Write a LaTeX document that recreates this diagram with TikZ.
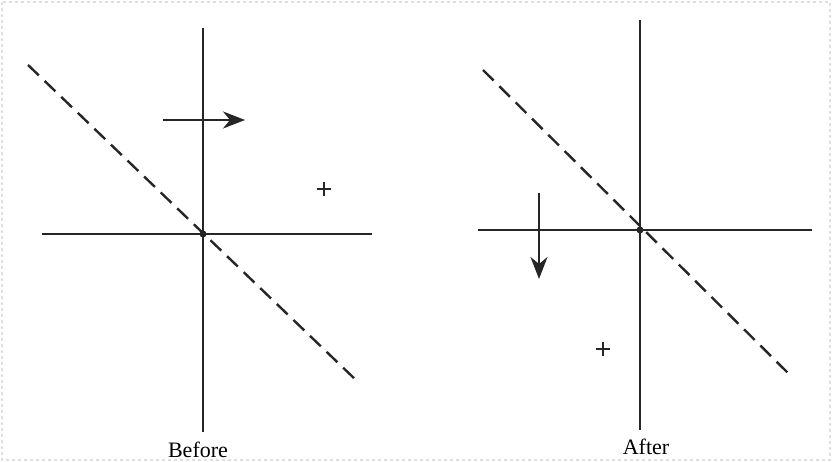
\documentclass[tikz,border=0pt]{standalone}
\usepackage{fontspec}
\setmainfont{Liberation Serif}
\usetikzlibrary{arrows.meta}
\begin{document}
\begin{tikzpicture}[x=1pt,y=-1pt,
  axis/.style={line width=2.6pt,black!85},
  diag/.style={line width=2.4pt,black!85,dash pattern=on 15pt off 8pt},
  move/.style={line width=2.4pt,black!85,-{Stealth[length=22pt,width=17pt,inset=7pt]}},
  cross/.style={line width=2.4pt,black!85},
  caption/.style={font=\fontsize{22}{26}\selectfont,inner sep=0pt}]
  \useasboundingbox (0,0) rectangle (832,462);
  \draw[gray!25,dashed,line width=1.5pt] (2,2) rectangle (830,460);
  % before
  \coordinate (o1) at (203,234);
  \coordinate (t1) at (203,28);
  \coordinate (b1) at (203,432);
  \coordinate (l1) at (42,234);
  \coordinate (r1) at (372,234);
  \draw[axis] (t1) -- (b1);
  \draw[axis] (l1) -- (r1);
  \coordinate (d1) at (28,65);
  \coordinate (e1) at (358,382);
  \draw[diag] (d1) -- (e1);
  \coordinate (a1) at (163,120);
  \coordinate (h1) at (245,120);
  \draw[move] (a1) -- (h1);
  \coordinate (p1) at (324,189);
  \draw[cross] ([xshift=-7pt]p1) -- ([xshift=7pt]p1);
  \draw[cross] ([yshift=-7pt]p1) -- ([yshift=7pt]p1);
  \fill[black!85] (o1) circle (3.5pt);
  \node[caption] (before) at (198,450) {Before};
  % after
  \coordinate (o2) at (640,230);
  \coordinate (t2) at (640,20);
  \coordinate (b2) at (640,430);
  \coordinate (l2) at (478,230);
  \coordinate (r2) at (812,230);
  \draw[axis] (t2) -- (b2);
  \draw[axis] (l2) -- (r2);
  \coordinate (d2) at (483,70);
  \coordinate (e2) at (793,378);
  \draw[diag] (d2) -- (e2);
  \coordinate (a2) at (539,193);
  \coordinate (h2) at (539,279);
  \draw[move] (a2) -- (h2);
  \coordinate (p2) at (603,349);
  \draw[cross] ([xshift=-7pt]p2) -- ([xshift=7pt]p2);
  \draw[cross] ([yshift=-7pt]p2) -- ([yshift=7pt]p2);
  \fill[black!85] (o2) circle (3.5pt);
  \node[caption] (after) at (646,447) {After};
\end{tikzpicture}
\end{document}
